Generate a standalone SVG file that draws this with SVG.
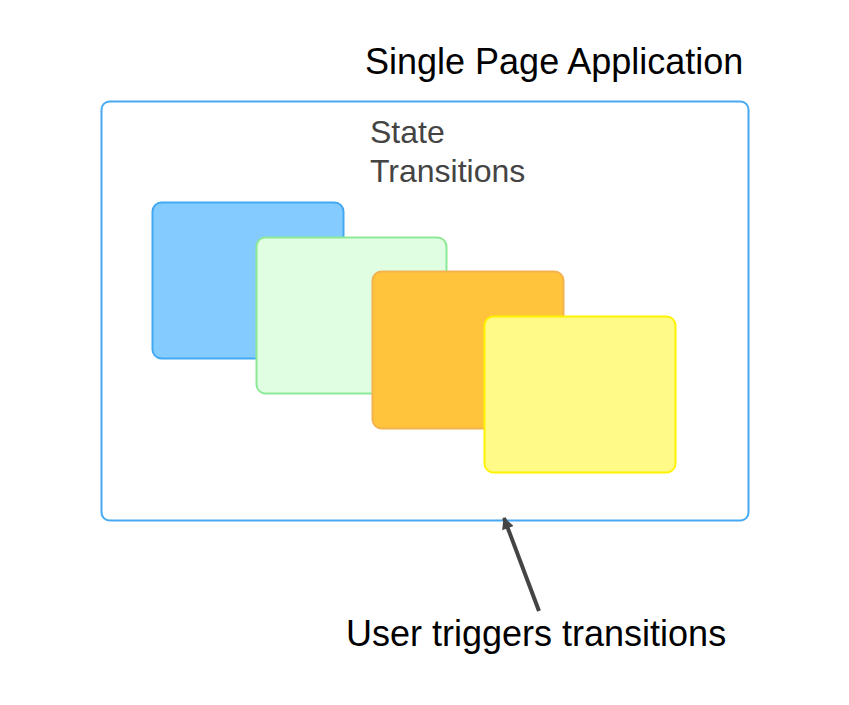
<svg xmlns="http://www.w3.org/2000/svg" width="849" height="705" viewBox="0 0 849 705">
<defs>
<style>
.t{font-family:"Liberation Sans",Arial,sans-serif;}
.big{font-size:36px;fill:#000;}
.mid{font-size:32px;fill:#444;}
.card{stroke-width:2;}
</style>
<marker id="ah" viewBox="0 0 10 10" refX="9" refY="5" markerWidth="3.2" markerHeight="3" orient="auto" markerUnits="strokeWidth">
<path d="M0,0 L10,5 L0,10 z" fill="#444"/>
</marker>
</defs>
<rect width="849" height="705" fill="#fff"/>
<g id="title"><text class="t big" x="365" y="74">Single Page Application</text></g>
<g id="spa"><rect x="101.5" y="101.5" width="647" height="419" rx="8" fill="#fff" stroke="#45aaf2" stroke-width="2"/></g>
<g id="state-label"><text class="t mid" x="370" y="143">State</text><text class="t mid" x="370" y="182">Transitions</text></g>
<g id="card1"><rect class="card" x="152.5" y="202.5" width="191" height="156" rx="9" fill="#84ccff" stroke="#42a9f1"/></g>
<g id="card2"><rect class="card" x="256.5" y="237.5" width="190" height="156" rx="9" fill="#e0ffe2" stroke="#8ee997"/></g>
<g id="card3"><rect class="card" x="372.5" y="271.5" width="191" height="157" rx="9" fill="#ffc43b" stroke="#f2b24e"/></g>
<g id="card4"><rect class="card" x="484.5" y="316.5" width="191" height="156" rx="9" fill="#fffb86" stroke="#fff200"/></g>
<g id="connectors"><line x1="539" y1="611" x2="504" y2="518" stroke="#444" stroke-width="4" marker-end="url(#ah)"/></g>
<g id="caption"><text class="t big" x="346" y="646">User triggers transitions</text></g>
</svg>
